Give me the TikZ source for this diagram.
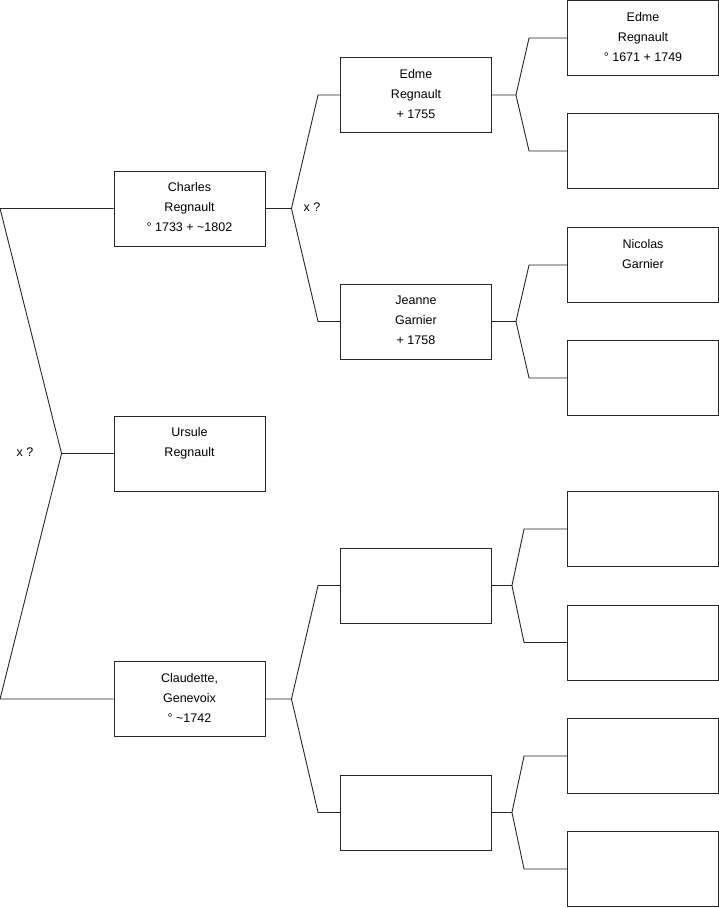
\documentclass[tikz,border=0pt]{standalone}
\usepackage{fontspec}
\setmainfont{Liberation Sans}
\newcommand{\who}[1]{\parbox[c][75pt][t]{151pt}{\centering\rule{0pt}{20.5pt}#1}}

\begin{document}
\begin{tikzpicture}[x=1pt, y=-1pt, every node/.style={font=\fontsize{12.5pt}{20pt}\selectfont}]
  \tikzstyle{person} = [rectangle, draw=black!85, line width=0.9pt, inner sep=0pt,
                        minimum width=151pt, minimum height=75pt]
  \tikzstyle{link} = [draw=black!85, line width=0.9pt]
  \useasboundingbox (0,0) rectangle (719,908);
  % generation 1
  \node (charles)   [person] at (189.5,208.5) {\who{Charles\\Regnault\\° 1733 + \textasciitilde1802}};
  \node (ursule)    [person] at (189.5,453.5) {\who{Ursule\\Regnault}};
  \node (claudette) [person] at (189.5,699)   {\who{Claudette,\\Genevoix\\° \textasciitilde1742}};
  % generation 2
  \node (edme)   [person] at (416,95)    {\who{Edme\\Regnault\\ + 1755}};
  \node (jeanne) [person] at (416,321.5) {\who{Jeanne\\Garnier\\ + 1758}};
  \node (pa)     [person] at (416,585.5) {};
  \node (ma)     [person] at (416,812.5) {};
  % generation 3
  \node (edmep)   [person] at (643,38)    {\who{Edme\\Regnault\\° 1671 + 1749}};
  \node (edmem)   [person] at (643,151)   {};
  \node (nicolas) [person] at (643,265)   {\who{Nicolas\\Garnier}};
  \node (jeannem) [person] at (643,378)   {};
  \node (pap)     [person] at (643,529)   {};
  \node (pam)     [person] at (643,642.5) {};
  \node (map)     [person] at (643,756)   {};
  \node (mam)     [person] at (643,869)   {};
  % marriage marks
  \node (xroot)   at (25,452)  {x ?};
  \node (xcharles) at (312,207) {x ?};
  % root fork
  \draw [link] (charles.west) -- ([xshift=-113.5pt]charles.west) -- ([xshift=-52pt]ursule.west) -- (ursule.west);
  \draw [link] (claudette.west) -- ([xshift=-113.5pt]claudette.west) -- ([xshift=-52pt]ursule.west);
  % generation 1 to 2
  \draw [link] (charles.east) -- ++(26,0) -- ([xshift=-22pt]edme.west) -- (edme.west);
  \draw [link] ([xshift=26pt]charles.east) -- ([xshift=-22pt]jeanne.west) -- (jeanne.west);
  \draw [link] (claudette.east) -- ++(26,0) -- ([xshift=-22pt]pa.west) -- (pa.west);
  \draw [link] ([xshift=26pt]claudette.east) -- ([xshift=-22pt]ma.west) -- (ma.west);
  % generation 2 to 3
  \draw [link] (edme.east) -- ++(24,0) -- ([xshift=-38pt]edmep.west) -- (edmep.west);
  \draw [link] ([xshift=24pt]edme.east) -- ([xshift=-38pt]edmem.west) -- (edmem.west);
  \draw [link] (jeanne.east) -- ++(24,0) -- ([xshift=-38pt]nicolas.west) -- (nicolas.west);
  \draw [link] ([xshift=24pt]jeanne.east) -- ([xshift=-38pt]jeannem.west) -- (jeannem.west);
  \draw [link] (pa.east) -- ++(20,0) -- ([xshift=-43pt]pap.west) -- (pap.west);
  \draw [link] ([xshift=20pt]pa.east) -- ([xshift=-43pt]pam.west) -- (pam.west);
  \draw [link] (ma.east) -- ++(20,0) -- ([xshift=-43pt]map.west) -- (map.west);
  \draw [link] ([xshift=20pt]ma.east) -- ([xshift=-43pt]mam.west) -- (mam.west);
\end{tikzpicture}
\end{document}
